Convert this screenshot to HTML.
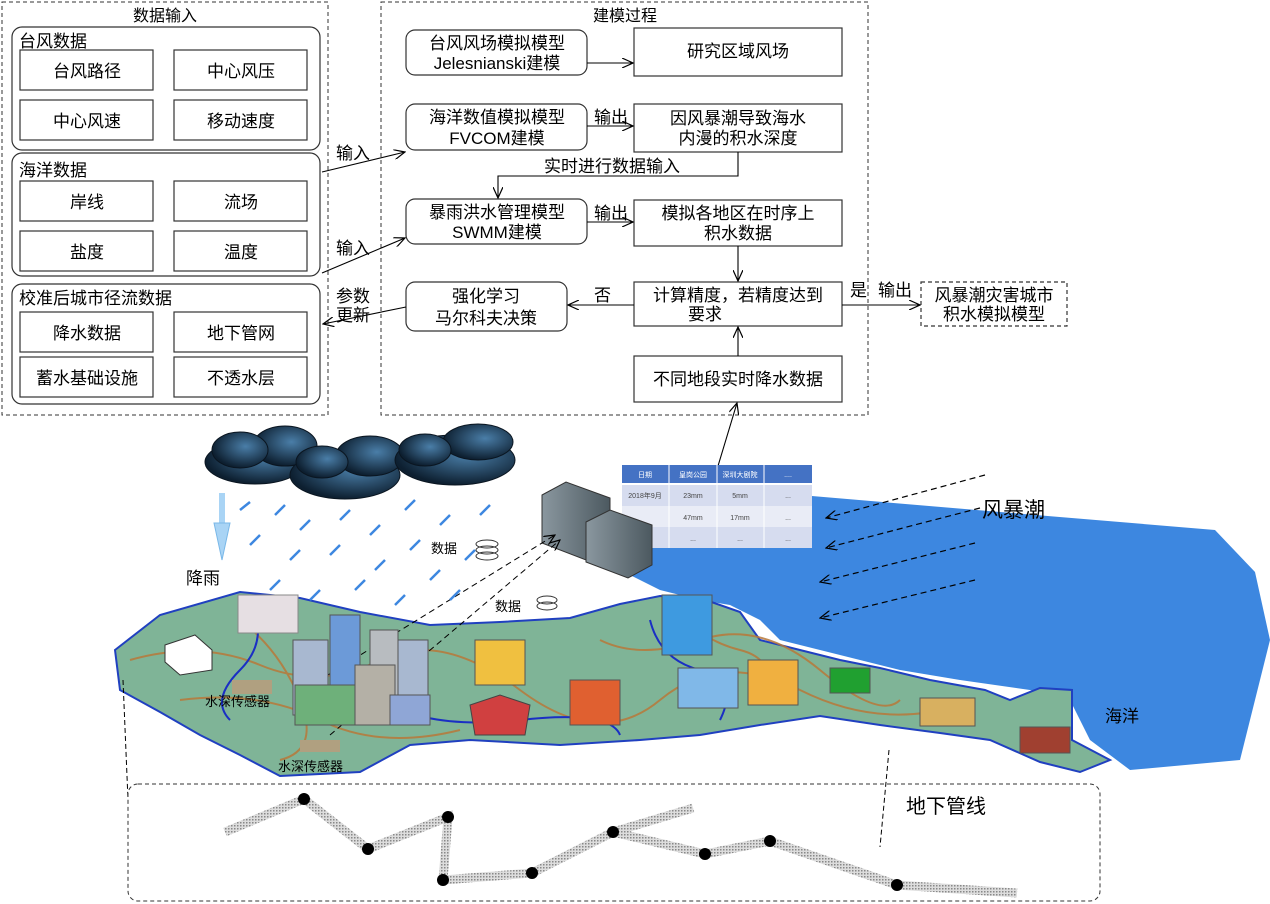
<!DOCTYPE html>
<html><head><meta charset="utf-8"><style>
html,body{margin:0;padding:0;background:#fff;}
svg{display:block;font-family:"Liberation Sans","Noto Sans CJK SC",sans-serif;}
</style></head><body>
<svg width="1270" height="904" viewBox="0 0 1270 904" xmlns="http://www.w3.org/2000/svg">
<defs>
<marker id="ar" markerWidth="12" markerHeight="10" refX="11" refY="5" orient="auto" markerUnits="userSpaceOnUse"><path d="M0,0 L11,5 L0,10" fill="none" stroke="#000" stroke-width="1.2"/></marker>
<radialGradient id="cl" cx="60%" cy="40%" r="60%"><stop offset="0" stop-color="#4a7ea8"/><stop offset="1" stop-color="#0d1f30"/></radialGradient>
<linearGradient id="srv" x1="0" x2="1"><stop offset="0" stop-color="#8a979f"/><stop offset="1" stop-color="#4c5960"/></linearGradient>
<pattern id="pp" width="3" height="3" patternUnits="userSpaceOnUse"><rect width="3" height="3" fill="#ddd"/><rect width="1.5" height="1.5" fill="#888"/></pattern>
</defs>
<g font-size="17" fill="#000">
<rect x="2" y="2" width="326" height="413" fill="none" stroke="#333" stroke-dasharray="4,3"/>
<text x="165" y="21" text-anchor="middle" font-size="16">数据输入</text>
<g fill="none" stroke="#333" stroke-width="1.2">
<rect x="12" y="27" width="308" height="123" rx="10"/>
<rect x="12" y="153" width="308" height="123" rx="10"/>
<rect x="12" y="284" width="308" height="120" rx="10"/>
<rect x="20" y="50" width="133" height="40"/><rect x="174" y="50" width="133" height="40"/>
<rect x="20" y="100" width="133" height="40"/><rect x="174" y="100" width="133" height="40"/>
<rect x="20" y="181" width="133" height="40"/><rect x="174" y="181" width="133" height="40"/>
<rect x="20" y="231" width="133" height="40"/><rect x="174" y="231" width="133" height="40"/>
<rect x="20" y="312" width="133" height="40"/><rect x="174" y="312" width="133" height="40"/>
<rect x="20" y="357" width="133" height="40"/><rect x="174" y="357" width="133" height="40"/>
</g>
<text x="19" y="47">台风数据</text>
<text x="19" y="176">海洋数据</text>
<text x="19" y="304">校准后城市径流数据</text>
<g text-anchor="middle">
<text x="87" y="77">台风路径</text><text x="241" y="77">中心风压</text>
<text x="87" y="127">中心风速</text><text x="241" y="127">移动速度</text>
<text x="87" y="208">岸线</text><text x="241" y="208">流场</text>
<text x="87" y="258">盐度</text><text x="241" y="258">温度</text>
<text x="87" y="339">降水数据</text><text x="241" y="339">地下管网</text>
<text x="87" y="384">蓄水基础设施</text><text x="241" y="384">不透水层</text>
</g>
<rect x="381" y="2" width="487" height="413" fill="none" stroke="#333" stroke-dasharray="4,3"/>
<text x="625" y="21" text-anchor="middle" font-size="16">建模过程</text>
<g fill="none" stroke="#333" stroke-width="1.2">
<rect x="406" y="30" width="181" height="45" rx="9"/>
<rect x="406" y="104" width="181" height="46" rx="9"/>
<rect x="406" y="199" width="181" height="45" rx="9"/>
<rect x="406" y="282" width="161" height="49" rx="9"/>
<rect x="634" y="28" width="208" height="48"/>
<rect x="634" y="104" width="208" height="48"/>
<rect x="634" y="200" width="208" height="46"/>
<rect x="634" y="282" width="208" height="44"/>
<rect x="634" y="356" width="208" height="46"/>
<rect x="921" y="282" width="146" height="44" stroke-dasharray="4,3"/>
</g>
<g text-anchor="middle">
<text x="497" y="49">台风风场模拟模型</text><text x="497" y="69">Jelesnianski建模</text>
<text x="497" y="123">海洋数值模拟模型</text><text x="497" y="144">FVCOM建模</text>
<text x="497" y="218">暴雨洪水管理模型</text><text x="497" y="238">SWMM建模</text>
<text x="486" y="302">强化学习</text><text x="486" y="324">马尔科夫决策</text>
<text x="738" y="57">研究区域风场</text>
<text x="738" y="124">因风暴潮导致海水</text><text x="738" y="144">内漫的积水深度</text>
<text x="738" y="219">模拟各地区在时序上</text><text x="738" y="239">积水数据</text>
<text x="738" y="301">计算精度，若精度达到</text><text x="705" y="320">要求</text>
<text x="738" y="385">不同地段实时降水数据</text>
<text x="994" y="301">风暴潮灾害城市</text><text x="994" y="320">积水模拟模型</text>
</g>
<g stroke="#000" stroke-width="1.1" fill="none">
<line x1="587" y1="63" x2="633" y2="63" marker-end="url(#ar)"/>
<line x1="587" y1="126" x2="633" y2="126" marker-end="url(#ar)"/>
<line x1="587" y1="222" x2="633" y2="222" marker-end="url(#ar)"/>
<polyline points="738,152 738,176 498,176 498,198" marker-end="url(#ar)"/>
<line x1="738" y1="246" x2="738" y2="281" marker-end="url(#ar)"/>
<line x1="634" y1="305" x2="568" y2="305" marker-end="url(#ar)"/>
<line x1="842" y1="305" x2="920" y2="305" marker-end="url(#ar)"/>
<line x1="738" y1="356" x2="738" y2="327" marker-end="url(#ar)"/>
<line x1="322" y1="172" x2="405" y2="152" marker-end="url(#ar)"/>
<line x1="322" y1="273" x2="405" y2="238" marker-end="url(#ar)"/>
<line x1="406" y1="307" x2="323" y2="324" marker-end="url(#ar)"/>
<line x1="718" y1="466" x2="737" y2="403" marker-end="url(#ar)"/>
</g>
<text x="594" y="123">输出</text><text x="594" y="219">输出</text>
<text x="544" y="172">实时进行数据输入</text>
<text x="594" y="301">否</text><text x="850" y="296">是</text><text x="878" y="296">输出</text>
<text x="336" y="159">输入</text><text x="336" y="254">输入</text>
<text x="336" y="302">参数</text><text x="336" y="321">更新</text>
</g>
<polygon points="628,555 800,495 1000,512 1215,530 1255,572 1270,640 1240,760 1130,770 1090,740 1070,700 1030,690 960,680 900,670 840,655 780,640 760,620 730,605 700,600 660,590 630,575" fill="#3d87e0"/>
<polygon points="115,650 160,615 240,592 300,598 360,612 430,625 500,622 570,618 620,604 660,596 700,598 740,612 760,640 800,650 840,660 880,668 930,680 985,690 1010,700 1040,688 1072,690 1072,740 1110,760 1080,772 1040,762 990,740 940,733 880,725 820,716 760,725 700,735 640,740 560,745 470,740 410,745 360,772 280,776 240,755 200,735 160,712 120,690" fill="#7fb497" stroke="#2040c0" stroke-width="2"/>
<g stroke="#b8793a" stroke-width="2" fill="none" opacity=".85">
<path d="M130,660 Q200,640 260,665 T380,660 T520,690 T660,700 T800,690 T960,705"/>
<path d="M180,700 Q260,690 320,720 T460,730"/>
<path d="M600,640 Q640,660 700,640 T820,670 T900,700"/>
<path d="M240,620 Q280,650 300,700 T280,760"/>
<path d="M680,610 Q700,640 740,650 T760,700"/>
</g>
<g stroke="#1a2fc4" stroke-width="2" fill="none">
<path d="M250,600 Q270,640 240,670 T230,720"/>
<path d="M380,700 Q430,730 520,720 T620,735"/>
<path d="M650,620 Q660,660 700,670 T720,720"/>
</g>
<g font-size="7" text-anchor="middle">
<rect x="622" y="465" width="190" height="18" fill="#4472c4"/>
<rect x="622" y="485" width="190" height="63" fill="#d6dcef"/>
<rect x="622" y="506" width="190" height="21" fill="#e9ecf6"/>
<g stroke="#fff"><line x1="669" y1="465" x2="669" y2="548"/><line x1="717" y1="465" x2="717" y2="548"/><line x1="764" y1="465" x2="764" y2="548"/></g>
<g fill="#fff"><text x="645" y="477">日期</text><text x="693" y="477">皇岗公园</text><text x="740" y="477">深圳大剧院</text><text x="788" y="477">....</text></g>
<g fill="#444"><text x="645" y="498">2018年9月</text><text x="693" y="498">23mm</text><text x="740" y="498">5mm</text><text x="788" y="498">...</text>
<text x="693" y="520">47mm</text><text x="740" y="520">17mm</text><text x="788" y="520">...</text>
<text x="693" y="541">...</text><text x="740" y="541">...</text><text x="788" y="541">...</text></g>
</g>
<g stroke="#333" stroke-width="1">
<polygon points="542,495 566,482 610,498 610,545 586,560 542,543" fill="url(#srv)"/>
<polygon points="586,522 610,510 652,525 652,565 628,578 586,562" fill="url(#srv)"/>
</g>
<g stroke="#000" stroke-width="1.2" stroke-dasharray="6,4" fill="none">
<line x1="985" y1="475" x2="826" y2="518" marker-end="url(#ar)"/>
<line x1="980" y1="508" x2="826" y2="548" marker-end="url(#ar)"/>
<line x1="975" y1="543" x2="820" y2="582" marker-end="url(#ar)"/>
<line x1="975" y1="580" x2="820" y2="618" marker-end="url(#ar)"/>
<line x1="310" y1="686" x2="555" y2="535" stroke-width="1" marker-end="url(#ar)"/>
<line x1="330" y1="735" x2="560" y2="540" stroke-width="1" marker-end="url(#ar)"/>
</g>
<text x="982" y="517" font-size="21">风暴潮</text>
<text x="1105" y="722" font-size="17">海洋</text>
<g fill="url(#cl)" stroke="#0a1520" stroke-width="1">
<ellipse cx="255" cy="462" rx="50" ry="22"/><ellipse cx="285" cy="446" rx="32" ry="20"/><ellipse cx="240" cy="450" rx="28" ry="18"/>
<ellipse cx="345" cy="475" rx="55" ry="24"/><ellipse cx="370" cy="456" rx="34" ry="20"/><ellipse cx="322" cy="462" rx="26" ry="16"/>
<ellipse cx="455" cy="460" rx="60" ry="25"/><ellipse cx="478" cy="442" rx="35" ry="18"/><ellipse cx="425" cy="450" rx="26" ry="16"/>
</g>
<g stroke="#3d87e0" stroke-width="2.5">
<line x1="240" y1="510" x2="250" y2="502"/><line x1="275" y1="515" x2="285" y2="505"/><line x1="300" y1="530" x2="310" y2="520"/>
<line x1="340" y1="520" x2="350" y2="510"/><line x1="370" y1="535" x2="380" y2="525"/><line x1="405" y1="510" x2="415" y2="500"/>
<line x1="250" y1="545" x2="260" y2="535"/><line x1="290" y1="560" x2="300" y2="550"/><line x1="330" y1="555" x2="340" y2="545"/>
<line x1="375" y1="570" x2="385" y2="560"/><line x1="410" y1="550" x2="420" y2="540"/><line x1="440" y1="525" x2="450" y2="515"/>
<line x1="270" y1="590" x2="280" y2="580"/><line x1="310" y1="600" x2="320" y2="590"/><line x1="355" y1="590" x2="365" y2="580"/>
<line x1="395" y1="605" x2="405" y2="595"/><line x1="430" y1="580" x2="440" y2="570"/><line x1="465" y1="560" x2="475" y2="550"/>
<line x1="480" y1="515" x2="490" y2="505"/><line x1="450" y1="600" x2="460" y2="590"/>
</g>
<rect x="219" y="493" width="6" height="30" fill="#a9d4f5"/><polygon points="214,523 230,523 222,560" fill="#a9d4f5" stroke="#7ab8e8"/>
<text x="186" y="584" font-size="17">降雨</text>
<text x="431" y="553" font-size="13">数据</text>
<text x="495" y="611" font-size="13">数据</text>
<g fill="none" stroke="#333"><ellipse cx="487" cy="544" rx="11" ry="4"/><ellipse cx="487" cy="550" rx="11" ry="4"/><ellipse cx="487" cy="556" rx="11" ry="4"/>
<ellipse cx="547" cy="600" rx="10" ry="4"/><ellipse cx="547" cy="606" rx="10" ry="4"/></g>
<rect x="238" y="595" width="60" height="38" fill="#e6dfe3" stroke="#888"/>
<polygon points="165,645 195,635 212,650 212,670 180,675 165,662" fill="#fff" stroke="#333"/>
<rect x="293" y="640" width="35" height="75" fill="#a8b8d0" stroke="#555"/>
<rect x="330" y="615" width="30" height="95" fill="#6c9ad8" stroke="#555"/>
<rect x="370" y="630" width="28" height="70" fill="#b8bcc0" stroke="#555"/>
<rect x="398" y="640" width="30" height="60" fill="#a8b8d0" stroke="#555"/>
<rect x="295" y="685" width="60" height="40" fill="#6eb07a" stroke="#555"/>
<rect x="355" y="665" width="40" height="60" fill="#b4b0a6" stroke="#555"/>
<rect x="390" y="695" width="40" height="30" fill="#8fa6d6" stroke="#555"/>
<rect x="232" y="680" width="40" height="14" fill="#b0a080"/>
<rect x="300" y="740" width="40" height="12" fill="#b0a080"/>
<text x="205" y="706" font-size="13">水深传感器</text>
<text x="278" y="771" font-size="13">水深传感器</text>
<rect x="475" y="640" width="50" height="45" fill="#f0c040" stroke="#555"/>
<polygon points="470,705 500,695 530,705 525,735 475,735" fill="#d04040" stroke="#444"/>
<rect x="570" y="680" width="50" height="45" fill="#e06030" stroke="#555"/>
<rect x="662" y="595" width="50" height="60" fill="#3e9ae0" stroke="#555"/>
<rect x="678" y="668" width="60" height="40" fill="#80b8e8" stroke="#555"/>
<rect x="748" y="660" width="50" height="45" fill="#f0b040" stroke="#555"/>
<rect x="830" y="668" width="40" height="25" fill="#20a030" stroke="#555"/>
<rect x="920" y="698" width="55" height="28" fill="#d8b060" stroke="#555"/>
<rect x="1020" y="727" width="50" height="26" fill="#a04030" stroke="#555"/>
<line x1="123" y1="680" x2="128" y2="800" stroke="#000" stroke-dasharray="5,3"/>
<line x1="889" y1="750" x2="880" y2="847" stroke="#000" stroke-dasharray="5,3"/>
<rect x="128" y="784" width="972" height="117" rx="10" fill="none" stroke="#333" stroke-dasharray="4,3"/>
<text x="906" y="813" font-size="20">地下管线</text>
<g stroke="url(#pp)" stroke-width="9" fill="none">
<polyline points="225,832 304,799 368,849 448,817 443,880 532,873 613,832 705,854 770,841 897,885 1017,893"/>
<line x1="613" y1="832" x2="693" y2="808"/>
</g>
<g fill="#000">
<circle cx="304" cy="799" r="6"/><circle cx="368" cy="849" r="6"/><circle cx="448" cy="817" r="6"/><circle cx="443" cy="880" r="6"/>
<circle cx="532" cy="873" r="6"/><circle cx="613" cy="832" r="6"/><circle cx="705" cy="854" r="6"/><circle cx="770" cy="841" r="6"/><circle cx="897" cy="885" r="6"/>
</g>
</svg>
</body></html>
